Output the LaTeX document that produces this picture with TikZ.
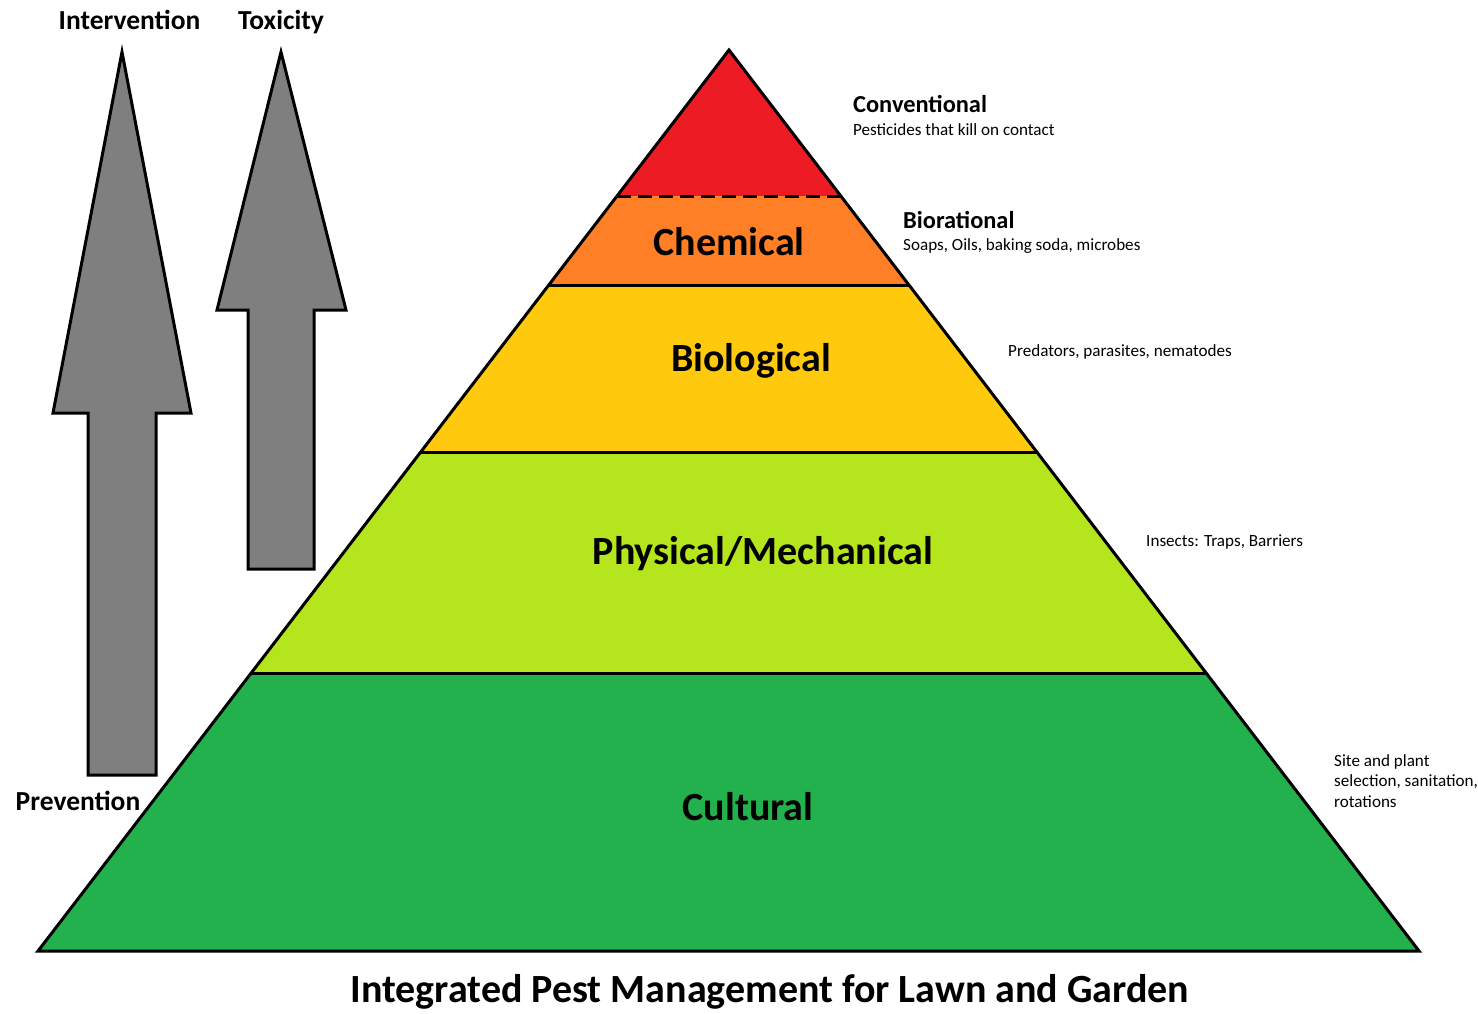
\documentclass[tikz,border=0pt]{standalone}
\usepackage{fontspec}
\setmainfont{Carlito}
\begin{document}
\begin{tikzpicture}[x=1pt,y=-1pt,
  edge/.style={draw=black,line width=3pt,line join=miter},
  arrowshape/.style={fill=arrowgray,draw=black,line width=3pt,line join=miter},
  band/.style={font=\fontsize{40}{44}\selectfont\bfseries,anchor=center,inner sep=0pt},
  head/.style={font=\fontsize{24.4}{28}\selectfont\bfseries,anchor=west,inner sep=0pt},
  note/.style={font=\fontsize{17.1}{20.5}\selectfont,anchor=west,inner sep=0pt,align=left},
  axis/.style={font=\fontsize{27.5}{31}\selectfont\bfseries,anchor=center,inner sep=0pt}]
\definecolor{tred}{HTML}{ED1C24}
\definecolor{torange}{HTML}{FF7F27}
\definecolor{tyellow}{HTML}{FFC90E}
\definecolor{tlime}{HTML}{B5E61D}
\definecolor{tgreen}{HTML}{22B14C}
\definecolor{arrowgray}{HTML}{7F7F7F}
\useasboundingbox[fill=white] (0,0) rectangle (1478,1013);

% pyramid corners and layer boundaries
\coordinate (apex) at (729,50);
\coordinate (bl) at (38,951);
\coordinate (br) at (1419,951);
\coordinate (l1) at (617,196); \coordinate (r1) at (841,196);
\coordinate (l2) at (549,285); \coordinate (r2) at (909,285);
\coordinate (l3) at (421,452); \coordinate (r3) at (1037,452);
\coordinate (l4) at (251,673); \coordinate (r4) at (1207,673);

% layer fills
\fill[tred] (apex) -- (r1) -- (l1) -- cycle;
\fill[torange] (l1) -- (r1) -- (r2) -- (l2) -- cycle;
\fill[tyellow] (l2) -- (r2) -- (r3) -- (l3) -- cycle;
\fill[tlime] (l3) -- (r3) -- (r4) -- (l4) -- cycle;
\fill[tgreen] (l4) -- (r4) -- (br) -- (bl) -- cycle;

% layer borders
\draw[black,line width=3pt,dash pattern=on 14pt off 7pt] (l1) -- (r1);
\draw[edge] (l2) -- (r2);
\draw[edge] (l3) -- (r3);
\draw[edge] (l4) -- (r4);
\draw[edge] (apex) -- (br) -- (bl) -- cycle;

% arrows
\draw[arrowshape] (122,52) -- (191,413) -- (156,413) -- (156,775) -- (88,775) -- (88,413) -- (53,413) -- cycle;
\draw[arrowshape] (281,52) -- (346,310) -- (314,310) -- (314,569) -- (248,569) -- (248,310) -- (217,310) -- cycle;

% axis labels
\node[axis] (intervention) at (129.5,20) {Intervention};
\node[axis] (toxicity) at (281,22) {Toxicity};
\node[axis] (prevention) at (78,801) {Prevention};

% layer names
\node[band] (chemical) at (729,242) {Chemical};
\node[band] (biological) at (751,361) {Biological};
\node[band] (physical) at (763,554) {Physical/Mechanical};
\node[band] (cultural) at (748,807) {Cultural};

% side notes
\node[head] (conv) at (853,104) {Conventional};
\node[note] (convnote) at (853,130) {Pesticides that kill on contact};
\node[head] (biorat) at (903,220) {Biorational};
\node[note] (bioratnote) at (903,246) {Soaps, Oils, baking soda, microbes};
\node[note] (bionote) at (1008,352) {Predators, parasites, nematodes};
\node[note] (physnote) at (1146,542) {Insects: Traps, Barriers};
\node[note] (cultnote) at (1334,781) {Site and plant\\selection, sanitation,\\rotations};

% title
\node[font=\fontsize{40}{44}\selectfont\bfseries,inner sep=0pt] (title) at (770,992) {Integrated Pest Management for Lawn and Garden};
\end{tikzpicture}
\end{document}
